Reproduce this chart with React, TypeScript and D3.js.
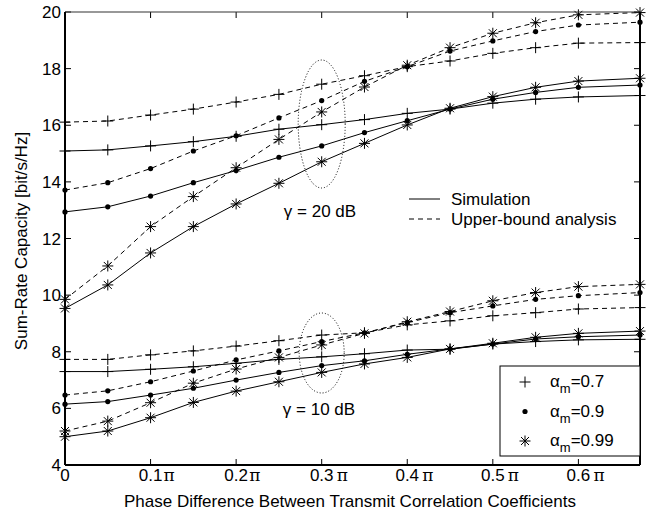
import React from "react";
import * as d3 from "d3";

// x in units of pi
const X_MAX = 0.672;
const xs = [0, 0.05, 0.1, 0.15, 0.2, 0.25, 0.3, 0.35, 0.4, 0.45, 0.5, 0.55, 0.6, X_MAX];
const xTicks = [0, 0.1, 0.2, 0.3, 0.4, 0.5, 0.6];
const yTicks = [4, 6, 8, 10, 12, 14, 16, 18, 20];

// gamma = 20 dB
const sim07_20 = [15.09, 15.13, 15.27, 15.42, 15.61, 15.86, 16.02, 16.2, 16.42, 16.57, 16.78, 16.92, 17.0, 17.05];
const sim09_20 = [12.94, 13.12, 13.5, 13.97, 14.4, 14.87, 15.27, 15.74, 16.16, 16.57, 16.92, 17.16, 17.34, 17.42];
const sim099_20 = [9.53, 10.36, 11.49, 12.42, 13.22, 13.95, 14.71, 15.36, 16.01, 16.6, 17.01, 17.34, 17.56, 17.66];
const ub07_20 = [16.11, 16.15, 16.36, 16.57, 16.82, 17.09, 17.45, 17.75, 18.07, 18.27, 18.54, 18.74, 18.9, 18.92];
const ub09_20 = [13.71, 13.97, 14.47, 15.09, 15.63, 16.26, 16.87, 17.55, 18.07, 18.62, 18.98, 19.31, 19.54, 19.64];
const ub099_20 = [9.85, 11.03, 12.42, 13.48, 14.5, 15.5, 16.47, 17.35, 18.12, 18.74, 19.25, 19.62, 19.9, 19.98];

// gamma = 10 dB
const sim07_10 = [7.3, 7.3, 7.38, 7.47, 7.59, 7.73, 7.82, 7.93, 8.06, 8.09, 8.27, 8.36, 8.42, 8.44];
const sim09_10 = [6.15, 6.24, 6.47, 6.71, 7.0, 7.27, 7.51, 7.68, 7.91, 8.1, 8.27, 8.45, 8.53, 8.59];
const sim099_10 = [5.0, 5.2, 5.67, 6.21, 6.61, 6.94, 7.27, 7.57, 7.8, 8.1, 8.3, 8.51, 8.65, 8.73];
const ub07_10 = [7.73, 7.73, 7.89, 8.03, 8.2, 8.39, 8.59, 8.67, 8.95, 9.09, 9.27, 9.38, 9.51, 9.56];
const ub09_10 = [6.47, 6.62, 6.94, 7.32, 7.71, 8.03, 8.36, 8.67, 9.03, 9.38, 9.62, 9.85, 9.98, 10.09];
const ub099_10 = [5.2, 5.55, 6.2, 6.89, 7.39, 7.8, 8.24, 8.65, 9.06, 9.42, 9.8, 10.09, 10.3, 10.38];

const series = [
  { values: sim07_20, marker: "plus", dashed: false },
  { values: sim09_20, marker: "dot", dashed: false },
  { values: sim099_20, marker: "star", dashed: false },
  { values: ub07_20, marker: "plus", dashed: true },
  { values: ub09_20, marker: "dot", dashed: true },
  { values: ub099_20, marker: "star", dashed: true },
  { values: sim07_10, marker: "plus", dashed: false },
  { values: sim09_10, marker: "dot", dashed: false },
  { values: sim099_10, marker: "star", dashed: false },
  { values: ub07_10, marker: "plus", dashed: true },
  { values: ub09_10, marker: "dot", dashed: true },
  { values: ub099_10, marker: "star", dashed: true },
];

const legendItems = [
  { marker: "plus", label: "0.7" },
  { marker: "dot", label: "0.9" },
  { marker: "star", label: "0.99" },
];

const W = 657, H = 515;
const left = 65, right = 640, top = 12, bottom = 465;
const font = "'Liberation Sans', Arial, sans-serif";

function Marker({ type, x, y }: { type: string; x: number; y: number }) {
  if (type === "dot") return <circle cx={x} cy={y} r={2.6} fill="#000" />;
  const p = `M${x - 5.5},${y}H${x + 5.5}M${x},${y - 5.5}V${y + 5.5}`;
  const s = type === "star" ? p + `M${x - 4},${y - 4}L${x + 4},${y + 4}M${x - 4},${y + 4}L${x + 4},${y - 4}` : p;
  return <path d={s} stroke="#000" strokeWidth={1} fill="none" />;
}

export default function App() {
  const xScale = d3.scaleLinear().domain([0, X_MAX]).range([left, right]);
  const yScale = d3.scaleLinear().domain([4, 20]).range([bottom, top]);
  const line = d3.line<number>().x((d, i) => xScale(xs[i])).y((d) => yScale(d));

  return (
    <svg width={W} height={H} style={{ position: "absolute", left: 0, top: 0, background: "#fff" }} fontFamily={font}>
      <rect x={0} y={0} width={W} height={H} fill="#fff" />

      {/* ellipses */}
      <ellipse cx={xScale(0.3)} cy={124} rx={23.5} ry={64} fill="none" stroke="#000" strokeWidth={1} strokeDasharray="1,2" />
      <ellipse cx={xScale(0.3)} cy={353} rx={22.5} ry={40} fill="none" stroke="#000" strokeWidth={1} strokeDasharray="1,2" />

      {/* lines */}
      {series.map((s, i) => (
        <path key={`l${i}`} d={line(s.values) || ""} fill="none" stroke="#000" strokeWidth={1}
          strokeDasharray={s.dashed ? "5,4" : undefined} />
      ))}
      {series.map((s, i) => (
        <g key={`m${i}`}>
          {s.values.map((v, j) => <Marker key={j} type={s.marker} x={xScale(xs[j])} y={yScale(v)} />)}
        </g>
      ))}

      {/* axes box and ticks */}
      {xTicks.map((t) => (
        <g key={`xt${t}`}>
          <line x1={xScale(t)} x2={xScale(t)} y1={bottom} y2={bottom - 6} stroke="#000" />
          <line x1={xScale(t)} x2={xScale(t)} y1={top} y2={top + 6} stroke="#000" />
          <text x={xScale(t)} y={481} fontSize={17} textAnchor="middle">{t === 0 ? "0" : t.toFixed(1)}</text>
          {t !== 0 && (
            <text x={xScale(t) + 13 + (t >= 0.3 ? 2 : 0)} y={481} fontSize={17} fontFamily="'DejaVu Serif', serif">π</text>
          )}
        </g>
      ))}
      {yTicks.map((t) => (
        <g key={`yt${t}`}>
          <line x1={left} x2={left + 6} y1={yScale(t)} y2={yScale(t)} stroke="#000" />
          <line x1={right} x2={right - 6} y1={yScale(t)} y2={yScale(t)} stroke="#000" />
          <text x={61} y={yScale(t) + 6} fontSize={17} textAnchor="end">{t}</text>
        </g>
      ))}
      <line x1={left} x2={right} y1={top} y2={top} stroke="#333" strokeWidth={1.2} />
      <line x1={left} x2={right} y1={bottom} y2={bottom} stroke="#000" strokeWidth={2} />
      <line x1={left} x2={left} y1={top} y2={bottom} stroke="#000" strokeWidth={2} />
      <line x1={right} x2={right} y1={top} y2={bottom} stroke="#000" strokeWidth={2} />

      {/* axis labels */}
      <text x={350} y={507} fontSize={17} textAnchor="middle">Phase Difference Between Transmit Correlation Coefficients</text>
      <text transform="translate(27,241) rotate(-90)" fontSize={17} textAnchor="middle">Sum-Rate Capacity [bit/s/Hz]</text>

      {/* annotations */}
      <text x={320} y={217} fontSize={17} textAnchor="middle">γ = 20 dB</text>
      <text x={319} y={415} fontSize={17} textAnchor="middle">γ = 10 dB</text>

      {/* line-style legend */}
      <line x1={409} x2={440} y1={199} y2={199} stroke="#000" />
      <line x1={409} x2={440} y1={219} y2={219} stroke="#000" strokeDasharray="5,4" />
      <text x={451} y={205} fontSize={17}>Simulation</text>
      <text x={451} y={225} fontSize={17}>Upper-bound analysis</text>

      {/* marker legend */}
      <rect x={500} y={366} width={right - 500} height={90} fill="#fff" stroke="#000" strokeWidth={1} />
      {legendItems.map((d, i) => {
        const cy = 382 + i * 29.5;
        return (
          <g key={d.label}>
            <Marker type={d.marker} x={525} y={cy} />
            <text x={550} y={cy + 5} fontSize={17}>
              α<tspan fontSize={13} dy={6}>m</tspan><tspan dy={-6}>={d.label}</tspan>
            </text>
          </g>
        );
      })}
    </svg>
  );
}
